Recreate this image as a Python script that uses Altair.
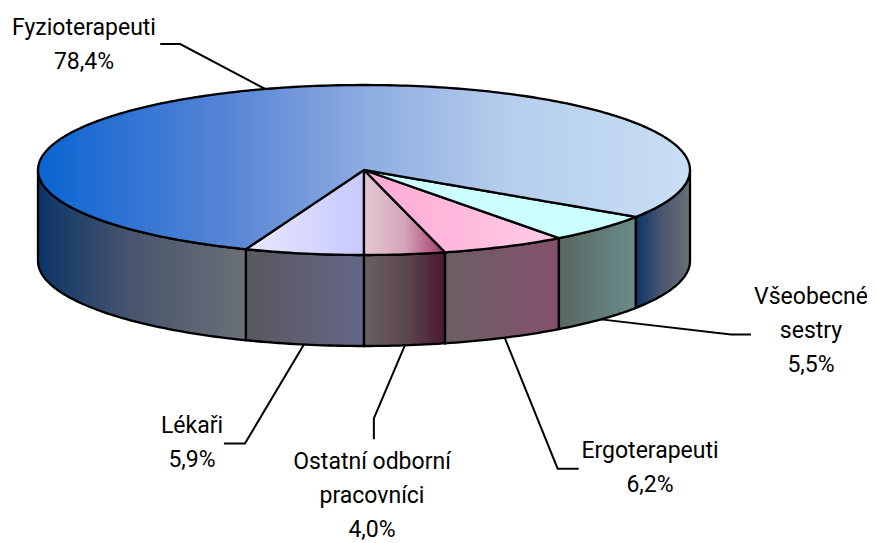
import numpy as np
import pandas as pd
import altair as alt

# --- data, in drawing order round the pie, starting at the front edge
categories = ["Lékaři", "Ostatní odborní pracovníci", "Ergoterapeuti", "Všeobecné sestry", "Fyzioterapeuti"]
shares = [5.9, 4.0, 6.2, 5.5, 78.4]
label_lines = [["Lékaři"], ["Ostatní odborní", "pracovníci"], ["Ergoterapeuti"], ["Všeobecné", "sestry"], ["Fyzioterapeuti"]]

# --- layout (page pixels)
W, H = 867, 543
CX, CY, RX, RY, DEPTH = 364, 170, 326, 85, 91
START_ANGLE = -shares[0] * 3.6
FONT = "Roboto"
FONT_SIZE = 23
LINE_GAP = 34
STROKE = 2.3
# elbow offset from rim anchor, horizontal stub end, label centre, first line y
leader_layout = [
    ((-59, 99), -21, 192, 426),
    ((-31, 73), 0, 372, 462),
    ((53, 131), 21, 650, 451),
    ((130, 15), 20, 811, 297),
    ((-85, -45), -20, 84, 28),
]
leader_extra_v = {1: (0, 21)}

# --- colours
top_stops = [
    [(0, "#e8e8ff"), (1, "#c8c8ff")],
    [(0, "#e6c8d4"), (0.5, "#d4a4ba"), (1, "#a03868")],
    [(0, "#ffa8d4"), (1, "#ffcce6")],
    [(0, "#ccffff"), (1, "#ccffff")],
    [(0, "#0a64d2"), (0.3, "#5a86d6"), (0.5, "#8cabe0"), (0.72, "#b6cdec"), (1, "#c9dff6")],
]
wall_stops = [
    [(0, "#58585e"), (1, "#666688")],
    [(0, "#6a6060"), (0.5, "#5e4850"), (1, "#4a1830")],
    [(0, "#6a5f65"), (1, "#864f6c")],
    [(0, "#5a6662"), (1, "#6a8c8a")],
]
fyz_wall_stops = [(0, "#0c3468"), (0.45, "#48556e"), (1, "#6a7076")]


def grad(stops):
    return alt.LinearGradient(
        gradient="linear", x1=0, y1=0, x2=1, y2=0,
        stops=[alt.GradientStop(offset=o, color=c) for o, c in stops],
    )


x_scale = alt.Scale(domain=[8, W], range=[0, W - 8])
y_scale = alt.Scale(domain=[8, H], range=[0, H - 8])


def pt(a):
    r = np.radians(a)
    return CX + RX * np.sin(r), CY + RY * np.cos(r)


def arc(a0, a1):
    return np.unique(np.concatenate([np.arange(a0, a1, 1.0), [a1]]))


def wedge_frame(a0, a1):
    xs, ys = pt(arc(a0, a1))
    px = np.concatenate([[CX], xs])
    py = np.concatenate([[CY], ys])
    qx, qy = np.roll(px, -1), np.roll(py, -1)
    rows = []
    for x in np.unique(np.round(px, 4)):
        hits = []
        for x1, y1, x2, y2 in zip(px, py, qx, qy):
            lo, hi = min(x1, x2), max(x1, x2)
            if lo - 1e-3 <= x <= hi + 1e-3:
                if abs(x2 - x1) < 1e-6:
                    hits += [y1, y2]
                else:
                    hits.append(y1 + (y2 - y1) * (x - x1) / (x2 - x1))
        rows.append({"x": float(x), "y": float(min(hits)), "y2": float(max(hits))})
    return pd.DataFrame(rows)


def wall_frame(a0, a1):
    xs, ys = pt(arc(a0, a1))
    return pd.DataFrame({"x": xs, "y": ys, "y2": ys + DEPTH}).sort_values("x")


def area(df, stops):
    return (
        alt.Chart(df)
        .mark_area(fill=grad(stops), stroke="black", strokeWidth=STROKE, interpolate="linear")
        .encode(
            x=alt.X("x:Q", scale=x_scale, axis=None),
            y=alt.Y("y:Q", scale=y_scale, axis=None),
            y2="y2:Q",
        )
    )


edges = np.concatenate([[START_ANGLE], START_ANGLE + np.cumsum(shares) * 3.6])
walls, tops, leaders, texts = [], [], [], []

for i in range(len(categories)):
    a0, a1 = edges[i], edges[i + 1]
    tops.append(area(wedge_frame(a0, a1), top_stops[i]))
    if i < 4:
        walls.append(area(wall_frame(a0, a1), wall_stops[i]))
    else:
        walls.append(area(wall_frame(a0, 90), fyz_wall_stops))
        walls.append(area(wall_frame(270, a1), fyz_wall_stops))

    mid = (a0 + a1) / 2
    ax, ay = pt(mid)
    if np.cos(np.radians(mid)) > 0:
        ay = ay + DEPTH
    (dx, dy), stub, lx, ly = leader_layout[i]
    ex, ey = ax + dx, ay + dy
    path = [(ax, ay), (ex, ey)]
    if i in leader_extra_v:
        path.append((ex + leader_extra_v[i][0], ey + leader_extra_v[i][1]))
    else:
        path.append((ex + stub, ey))
    ldf = pd.DataFrame(path, columns=["x", "y"]).assign(o=range(len(path)))
    leaders.append(
        alt.Chart(ldf).mark_line(color="black", strokeWidth=2).encode(
            x=alt.X("x:Q", scale=x_scale, axis=None),
            y=alt.Y("y:Q", scale=y_scale, axis=None),
            order="o:O",
        )
    )
    lines = label_lines[i] + [f"{shares[i]:.1f}%".replace(".", ",")]
    tdf = pd.DataFrame({"t": lines, "x": lx, "y": [ly + k * LINE_GAP for k in range(len(lines))]})
    texts.append(
        alt.Chart(tdf).mark_text(
            font=FONT, fontSize=FONT_SIZE, color="black", align="center", baseline="middle"
        ).encode(
            x=alt.X("x:Q", scale=x_scale, axis=None),
            y=alt.Y("y:Q", scale=y_scale, axis=None),
            text="t:N",
        )
    )

chart = (
    alt.layer(*leaders, *walls, *tops, *texts)
    .properties(width=W - 8, height=H - 8, padding=0, autosize=alt.AutoSizeParams(type="none"))
    .configure_view(stroke=None)
)
chart.save("out.html", embed_options={"renderer": "svg", "actions": False})
